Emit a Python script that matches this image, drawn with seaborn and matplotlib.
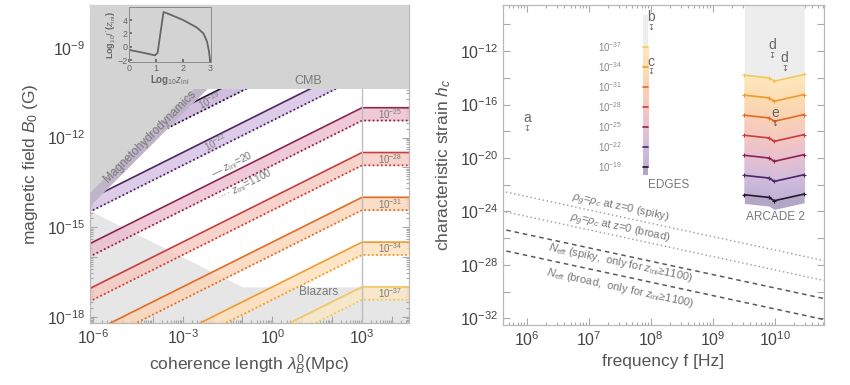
import numpy as np
import matplotlib
matplotlib.use('Agg')
import matplotlib.pyplot as plt
import seaborn as sns
from matplotlib.colors import to_rgb
from matplotlib.ticker import FixedLocator, FuncFormatter, NullFormatter, LogLocator

# ---------------- data ----------------
LEVELS = [-19, -22, -25, -28, -31, -34, -37]
LINE_COLORS = ['#24152f', '#4b2466', '#8b2550', '#c63f3a', '#e46a24', '#ef9a2e', '#f3c660']
FILL_COLORS = ['#c6aed8', '#d5c0e2', '#ecbccb', '#f6c8c0', '#fbd4b6', '#fddfb8', '#fbe6c4']

# left panel: B0 (G) of the z_ini=20 line at lambda = 1e-7, 1e3, 1e5 Mpc
BAND_LAM = [1e-7, 1e3, 1e5]
BAND_LOGB = {-19: [-13.0, -8.0, -8.0], -22: [-14.5, -9.5, -9.5], -25: [-16.0, -11.0, -11.0],
             -28: [-17.5, -12.5, -12.5], -31: [-19.0, -14.0, -14.0], -34: [-20.5, -15.5, -15.5],
             -37: [-22.0, -17.0, -17.0]}
DOT_SHIFT = 0.43            # z_ini=1100 line lies this many decades lower
CMB_LOGB = -10.38
MHD_LAM = [1e-7, 1e-2]
MHD_LOGB = [-15.17, -10.17]
MHD_STRIP_LOGB = [-14.72, -9.72]
BLAZAR_LAM = [1e-7, 1e-1, 1e5]
BLAZAR_LOGB = [-14.0, -17.0, -17.0]
LAM_LIMITS = [10**-6.1, 10**4.57]
B_LIMITS = [10**-18.21, 10**-7.56]
BAND_LABEL_LAM = [10**-2.1, 10**-1.9, 10**3.93, 10**3.93, 10**3.93, 10**3.93, 10**3.93]

# inset curve
INSET_X = [0, 0.5, 0.95, 1.05, 1.27, 1.5, 2.0, 2.5, 2.75, 2.88, 2.95, 3.0]
INSET_Y = [-0.45, -0.85, -1.25, -0.9, 5.2, 4.85, 4.0, 2.9, 2.0, 0.8, -0.6, -2.2]

# right panel
FREQ_LIMITS = [10**5.61, 10**10.79]
H_LIMITS = [10**-32.5, 10**-8.55]
REF_FREQ = [1e5, 1e11]
RHO_SPIKY = [-21.89, -27.89]
RHO_BROAD = [-23.38, -29.38]
NEFF_SPIKY = [-24.73, -30.73]
NEFF_BROAD = [-26.3, -32.3]
EDGES_FREQ = [7.4e7, 8.9e7]
EDGES_LOGH = [-20.7, -19.2, -17.7, -16.2, -14.7, -13.2, -11.7]
ARCADE_FREQ = [3.2e9, 8.0e9, 9.7e9, 2.95e10]
ARCADE_LOGH = [-22.75, -21.3, -19.8, -18.3, -16.8, -15.3, -13.8]
ARCADE_SHAPE = [0.0, -0.2, -0.45, 0.05]
STRIP_COLORS = ['#bfb0d2', '#d0bcdc', '#e6bfd0', '#f4c6c2', '#f9d0b4', '#fcdcb2', '#fde6bc']
ANN_TEXT = ['a', 'b', 'c', 'd', 'd', 'e']
ANN_FREQ = [1e6, 1e8, 1e8, 10**9.95, 10**10.15, 1e10]
ANN_LOGH = [-17.75, -10.2, -13.55, -12.3, -13.27, -17.4]

# ---------------- style ----------------
sns.set_theme(style='ticks')
plt.rcParams['font.family'] = ['Liberation Sans', 'DejaVu Sans']
plt.rcParams['mathtext.fontset'] = 'custom'
plt.rcParams['mathtext.rm'] = 'Liberation Sans'
plt.rcParams['mathtext.it'] = 'Liberation Sans:italic'
plt.rcParams['mathtext.bf'] = 'Liberation Sans:bold'
TXT = '#555555'
GREY = '#d3d3d3'
LIGHT = '#e6e6e6'

fig = plt.figure(figsize=(8.5, 3.85), dpi=100)
axL = fig.add_axes([0.1059, 0.161, 0.3753, 0.826])
axR = fig.add_axes([0.5918, 0.1558, 0.3776, 0.8312])


def style_axis(ax, label_every_x, label_every_y, step_y, minor_y=True):
    ax.set_xscale('log')
    ax.set_yscale('log')
    for s in ax.spines.values():
        s.set_color('#b8b8b8')
        s.set_linewidth(0.9)
    ax.tick_params(which='both', direction='in', top=True, right=True, color='#a8a8a8',
                   labelcolor='#444444', labelsize=11.5, width=0.8)
    ax.tick_params(which='major', length=5)
    ax.tick_params(which='minor', length=2.5)

    def fmt(every):
        def f(v, _):
            e = int(round(np.log10(v)))
            return r'$10^{%d}$' % e if e % every == 0 else ''
        return FuncFormatter(f)
    ax.xaxis.set_major_locator(LogLocator(base=10, numticks=30))
    ax.xaxis.set_minor_locator(LogLocator(base=10, subs=np.arange(2, 10), numticks=30))
    ax.xaxis.set_major_formatter(fmt(label_every_x))
    ax.xaxis.set_minor_formatter(NullFormatter())
    lo, hi = [int(np.floor(np.log10(v))) for v in ax.get_ylim()]
    ax.yaxis.set_major_locator(FixedLocator([10.0**k for k in range(lo, hi + 2) if k % step_y == 0]))
    if minor_y:
        ax.yaxis.set_minor_locator(LogLocator(base=10, subs=np.arange(2, 10), numticks=30))
    else:
        ax.yaxis.set_minor_locator(FixedLocator([]))
    ax.yaxis.set_major_formatter(fmt(label_every_y))
    ax.yaxis.set_minor_formatter(NullFormatter())


# ---------------- left panel ----------------
axL.set_xlim(LAM_LIMITS)
axL.set_ylim(B_LIMITS)
top = B_LIMITS[1]

axL.fill_between(BLAZAR_LAM, B_LIMITS[0], 10.0**np.array(BLAZAR_LOGB), color=LIGHT, lw=0, zorder=0.5)
for lev, lc, fc in zip(LEVELS, LINE_COLORS, FILL_COLORS):
    solid = 10.0**np.array(BAND_LOGB[lev])
    dotted = 10.0**(np.array(BAND_LOGB[lev]) - DOT_SHIFT)
    axL.fill_between(BAND_LAM, dotted, solid, color=fc, alpha=0.8, lw=0, zorder=1)
    sns.lineplot(x=BAND_LAM, y=solid, ax=axL, color=lc, lw=1.2, zorder=2, legend=False)
    axL.plot(BAND_LAM, dotted, color=lc, lw=1.3, ls=(0, (1, 1.3)), zorder=2)
axL.axvline(1e3, color='#bdbdbd', lw=1.0, zorder=2.5)
axL.fill_between(MHD_LAM, 10.0**np.array(MHD_LOGB), top, color=GREY, lw=0, zorder=3)
axL.fill_between(MHD_LAM, 10.0**np.array(MHD_LOGB), 10.0**np.array(MHD_STRIP_LOGB),
                 color='#9b7bb5', alpha=0.35, lw=0, zorder=3.2)
axL.fill_between(LAM_LIMITS, 10.0**CMB_LOGB, top, color=GREY, lw=0, zorder=3.4)

lab = dict(color='#7a7a7a', ha='center', va='center', rotation_mode='anchor', zorder=5)
axL.text(10**1.19, 10**-10.12, 'CMB', fontsize=9, **lab)
axL.text(10**-4.09, 10**-11.97, 'Magnetohydrodynamics', fontsize=8.5, rotation=45, **lab)
axL.text(10**1.53, 10**-17.18, 'Blazars', fontsize=8.5, **lab)
for lev, xl in zip(LEVELS, BAND_LABEL_LAM):
    yl = 10**(np.interp(np.log10(xl), np.log10(BAND_LAM), BAND_LOGB[lev]) - DOT_SHIFT / 2)
    rot = 26.5 if xl < 1e3 else 0
    axL.text(xl, yl, r'$10^{%d}$' % lev, fontsize=7, rotation=rot, **lab)
axL.text(10**-1.35, 10**-12.9, r'— $z_{\rm ini}$=20', fontsize=7.5, rotation=26.5, **lab)
axL.text(10**-0.92, 10**-13.61, r'···· $z_{\rm ini}$=1100', fontsize=7.5, rotation=26.5, **lab)

style_axis(axL, 3, 3, 1)
axL.set_xlabel(r'coherence length $\lambda_B^0$(Mpc)', fontsize=12.5, color=TXT, labelpad=4)
axL.set_ylabel(r'magnetic field $B_0$ (G)', fontsize=12.5, color=TXT, labelpad=5)

# inset
axI = fig.add_axes([0.152, 0.838, 0.096, 0.143])
axI.set_facecolor('none')
axI.plot(INSET_X, INSET_Y, color='#666666', lw=1.3)
axI.set_xlim(0, 3.02)
axI.set_ylim(-2.3, 5.9)
axI.set_xticks([0, 1, 2, 3])
axI.set_yticks([-2, 0, 2, 4])
axI.tick_params(direction='in', length=2, labelsize=6.5, colors='#666666', pad=1)
for s in axI.spines.values():
    s.set_color('#8a8a8a')
    s.set_linewidth(0.7)
axI.set_xlabel(r'Log$_{10}z_{\rm ini}$', fontsize=7, color='#666666', labelpad=0, fontweight='bold')
axI.set_ylabel(r"Log$_{10}I\,'$($z_{\rm ini}$)", fontsize=6.5, color='#666666', labelpad=0, fontweight='bold')

# ---------------- right panel ----------------
axR.set_xlim(FREQ_LIMITS)
axR.set_ylim(H_LIMITS)


def strip(ax, x, logh, tail, top_logh):
    logh = np.asarray(logh)
    n = 10
    ax.fill_between(x, 10**(logh[0] - tail), 10**logh[0], color='#b3a6c6', lw=0, zorder=1)
    for i in range(len(logh) - 1):
        lo, hi = logh[i], logh[i + 1]
        c0, c1 = np.array(to_rgb(STRIP_COLORS[i])), np.array(to_rgb(STRIP_COLORS[i + 1]))
        for k in range(n):
            c = c0 + (c1 - c0) * (k + 0.5) / n
            ax.fill_between(x, 10**(lo + (hi - lo) * k / n), 10**(lo + (hi - lo) * (k + 1) / n),
                            facecolor=c, edgecolor=c, lw=0.6, zorder=1)
    ax.fill_between(x, 10**logh[-1], 10**top_logh, color='#ededed', lw=0, zorder=1)


edges = np.array([[v, v] for v in EDGES_LOGH])
strip(axR, EDGES_FREQ, edges, 0.6, -9.3)
for row, c in zip(edges, LINE_COLORS):
    axR.plot(EDGES_FREQ, 10**row, color=c, lw=1.2, zorder=2)
for v, lev in zip(EDGES_LOGH, LEVELS):
    axR.text(10**7.34, 10**v, r'$10^{%d}$' % lev, fontsize=7, color='#8a8a8a', ha='center', va='center')

arcade = np.array([[b + s for s in ARCADE_SHAPE] for b in ARCADE_LOGH])
strip(axR, ARCADE_FREQ, arcade, 0.65, np.log10(H_LIMITS[1]))
for row, c in zip(arcade, LINE_COLORS):
    axR.plot(ARCADE_FREQ, 10**row, color=c, lw=1.2, marker='+', ms=3, mew=0.8, zorder=2)

axR.plot(REF_FREQ, 10.0**np.array(RHO_SPIKY), color='#9a9a9a', lw=1.0, ls=(0, (1, 2)))
axR.plot(REF_FREQ, 10.0**np.array(RHO_BROAD), color='#9a9a9a', lw=1.0, ls=(0, (1, 2)))
axR.plot(REF_FREQ, 10.0**np.array(NEFF_SPIKY), color='#5a5a5a', lw=1.1, ls=(0, (3, 2.5)))
axR.plot(REF_FREQ, 10.0**np.array(NEFF_BROAD), color='#5a5a5a', lw=1.1, ls=(0, (3, 2.5)))
rl = dict(color='#777777', fontsize=8, rotation=-12.2, ha='center', va='center', rotation_mode='anchor')
axR.text(10**7.5, 10**-23.78, r'$\rho_g$=$\rho_c$ at z=0 (spiky)', **rl)
axR.text(10**7.5, 10**-25.27, r'$\rho_g$=$\rho_c$ at z=0 (broad)', **rl)
axR.text(10**7.5, 10**-27.85, r'$N_{\rm eff}$ (spiky,  only for $z_{\rm ini}$≥1100)', **rl)
axR.text(10**7.5, 10**-29.7, r'$N_{\rm eff}$ (broad,  only for $z_{\rm ini}$≥1100)', **rl)
axR.text(10**8.29, 10**-22.0, 'EDGES', fontsize=8.5, color='#777777', ha='center', va='center')
axR.text(10**10.0, 10**-24.45, 'ARCADE 2', fontsize=8.5, color='#777777', ha='center', va='center')

for t, f, h in zip(ANN_TEXT, ANN_FREQ, ANN_LOGH):
    axR.text(f, 10**h, '↧', fontsize=6, color='#666666', ha='center', va='center',
             family=['DejaVu Sans'], zorder=4)
    axR.text(f, 10**(h + 0.75), t, fontsize=10, color='#666666', ha='center', va='center', zorder=4)

style_axis(axR, 1, 4, 2, minor_y=False)
axR.set_xlabel('frequency f [Hz]', fontsize=12.5, color=TXT, labelpad=4)
axR.set_ylabel(r'characteristic strain $h_c$', fontsize=12.5, color=TXT, labelpad=5)

fig.savefig('out.png', dpi=100)
